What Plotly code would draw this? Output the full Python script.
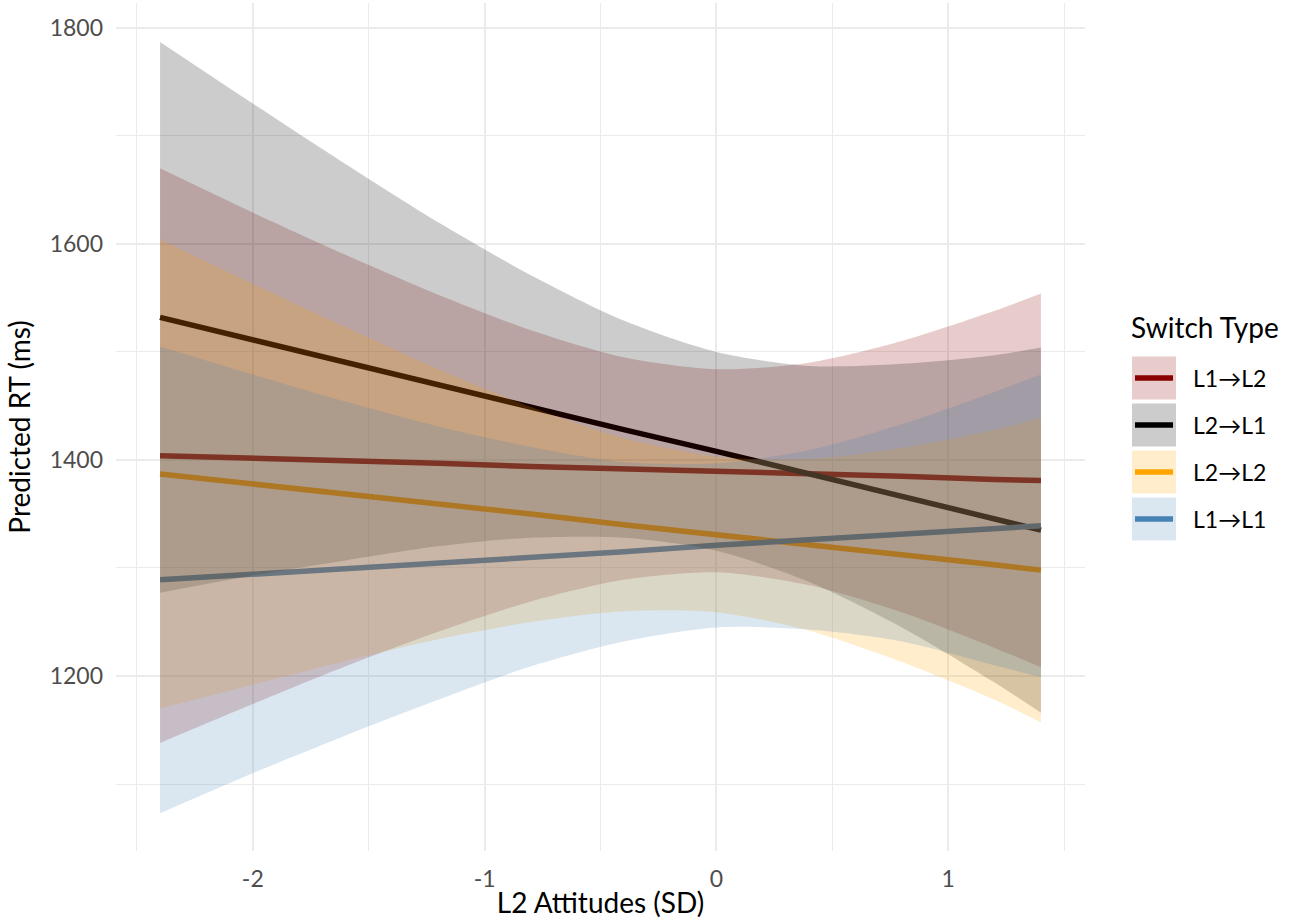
import plotly.graph_objects as go

# ---- data ----
x_vals = [-2.4, -2.0, -1.6, -1.2, -0.8, -0.4, 0.0, 0.4, 0.8, 1.2, 1.4]

series_names = ["L1→L2", "L2→L1", "L2→L2", "L1→L1"]

fit_l1l2 = [1404, 1402, 1399, 1397, 1394, 1392, 1390, 1387, 1385, 1382, 1381]
upper_l1l2 = [1670, 1629, 1590, 1553, 1520, 1495, 1484, 1490, 1510, 1538, 1554]
lower_l1l2 = [1138, 1174, 1209, 1241, 1269, 1289, 1296, 1284, 1259, 1226, 1208]

fit_l2l1 = [1532, 1511, 1491, 1470, 1449, 1428, 1408, 1387, 1366, 1345, 1335]
upper_l2l1 = [1787, 1730, 1674, 1620, 1571, 1529, 1500, 1487, 1489, 1497, 1504]
lower_l2l1 = [1277, 1293, 1307, 1320, 1328, 1328, 1316, 1287, 1245, 1194, 1166]

fit_l2l2 = [1387, 1378, 1368, 1359, 1350, 1340, 1331, 1321, 1312, 1303, 1298]
upper_l2l2 = [1604, 1563, 1523, 1484, 1449, 1420, 1403, 1401, 1411, 1428, 1439]
lower_l2l2 = [1170, 1192, 1214, 1234, 1250, 1260, 1259, 1242, 1213, 1178, 1157]

fit_l1l1 = [1289, 1294, 1300, 1305, 1310, 1315, 1321, 1326, 1331, 1336, 1339]
upper_l1l1 = [1505, 1479, 1454, 1431, 1412, 1398, 1397, 1409, 1433, 1463, 1479]
lower_l1l1 = [1073, 1110, 1145, 1178, 1209, 1232, 1245, 1243, 1232, 1210, 1199]

x_ticks = [-2, -1, 0, 1]
x_ticktext = ["-2", "-1", "0", "1"]
y_ticks = [1200, 1400, 1600, 1800]
y_ticktext = ["1200", "1400", "1600", "1800"]

# ---- styles ----
line_colors = ["#8B0000", "#000000", "#FFA500", "#4682B4"]
fill_colors = ["rgba(139,0,0,0.2)", "rgba(0,0,0,0.2)",
               "rgba(255,165,0,0.2)", "rgba(70,130,180,0.2)"]
FONT = "Lato"
TITLE_SIZE = 28
TEXT_SIZE = 23

fits = [fit_l1l2, fit_l2l1, fit_l2l2, fit_l1l1]
uppers = [upper_l1l2, upper_l2l1, upper_l2l2, upper_l1l1]
lowers = [lower_l1l2, lower_l2l1, lower_l2l2, lower_l1l1]

fig = go.Figure()

# lines first (ribbons are drawn on top in the reference)
for name, fit, col in zip(series_names, fits, line_colors):
    fig.add_trace(go.Scatter(x=x_vals, y=fit, mode="lines", name=name,
                             line=dict(color=col, width=5.5),
                             showlegend=False))

for name, up, lo, fc in zip(series_names, uppers, lowers, fill_colors):
    fig.add_trace(go.Scatter(x=x_vals, y=lo, mode="lines",
                             line=dict(width=0, color="rgba(0,0,0,0)",
                                       shape="spline", smoothing=0.8),
                             showlegend=False, hoverinfo="skip"))
    fig.add_trace(go.Scatter(x=x_vals, y=up, mode="lines", fill="tonexty",
                             fillcolor=fc,
                             line=dict(width=0, color="rgba(0,0,0,0)",
                                       shape="spline", smoothing=0.8),
                             name=name, showlegend=False, hoverinfo="skip"))

# ---- layout ----
L, R, T, B = 116, 215, 3, 70
W, H = 1300, 921
pw, ph = W - L - R, H - T - B


def px_x(px):
    return (px - L) / pw


def px_y(py):
    return (H - B - py) / ph


grid = "#ebebeb"
fig.update_layout(
    width=W, height=H,
    margin=dict(l=L, r=R, t=T, b=B),
    paper_bgcolor="white", plot_bgcolor="white",
    showlegend=False,
    font=dict(family=FONT, color="#000000"),
    xaxis=dict(
        range=[-2.59, 1.59], tickmode="array", tickvals=x_ticks,
        ticktext=x_ticktext, showgrid=True, gridcolor=grid, gridwidth=2,
        zeroline=False, showline=False, ticks="", ticklabelstandoff=12,
        tickfont=dict(family=FONT, size=TEXT_SIZE, color="#4d4d4d"),
        minor=dict(tickmode="linear", tick0=-2.5, dtick=0.5, showgrid=True,
                   gridcolor=grid, gridwidth=1),
        title=dict(text="L2 Attitudes (SD)",
                   font=dict(family=FONT, size=TITLE_SIZE), standoff=2),
    ),
    yaxis=dict(
        range=[1038, 1823], tickmode="array", tickvals=y_ticks,
        ticktext=y_ticktext, showgrid=True, gridcolor=grid, gridwidth=2,
        zeroline=False, showline=False, ticks="", ticklabelstandoff=12,
        tickfont=dict(family=FONT, size=TEXT_SIZE, color="#4d4d4d"),
        minor=dict(tickmode="linear", tick0=1100, dtick=100, showgrid=True,
                   gridcolor=grid, gridwidth=1),
        title=dict(text="Predicted RT (ms)",
                   font=dict(family=FONT, size=TITLE_SIZE), standoff=10),
    ),
)

# ---- manual legend (ggplot style keys) ----
shapes = []
annotations = [dict(x=px_x(1129), y=px_y(327), xref="paper", yref="paper",
                    text="Switch Type", showarrow=False, xanchor="left",
                    yanchor="middle", font=dict(family=FONT, size=TITLE_SIZE))]
row_centers = [378, 425, 472, 519]
for name, lc, fc, cy in zip(series_names, line_colors, fill_colors, row_centers):
    shapes.append(dict(type="rect", xref="paper", yref="paper",
                       x0=px_x(1132), x1=px_x(1176), y0=px_y(cy - 21.5),
                       y1=px_y(cy + 21.5), fillcolor=fc,
                       line=dict(width=0), layer="above"))
    shapes.append(dict(type="line", xref="paper", yref="paper",
                       x0=px_x(1135), x1=px_x(1173), y0=px_y(cy), y1=px_y(cy),
                       line=dict(color=lc, width=5.5), layer="above"))
    annotations.append(dict(x=px_x(1191), y=px_y(cy), xref="paper",
                            yref="paper", text=name, showarrow=False,
                            xanchor="left", yanchor="middle",
                            font=dict(family=FONT, size=TEXT_SIZE)))

fig.update_layout(shapes=shapes, annotations=annotations)

fig.write_html("out.html")
